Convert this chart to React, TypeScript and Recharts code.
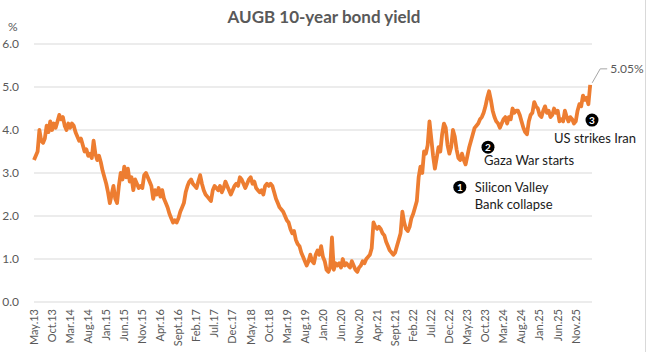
import { CartesianGrid, Line, LineChart, ReferenceDot, XAxis, YAxis } from "recharts";

const FONT = "Lato, 'Open Sans', sans-serif";

// x tick labels, one every 5 months starting May 2013
const xLabels = [
  "May.13", "Oct.13", "Mar.14", "Aug.14", "Jan.15", "Jun.15", "Nov.15", "Apr.16",
  "Sept.16", "Feb.17", "Jul.17", "Dec.17", "May.18", "Oct.18", "Mar.19", "Aug.19",
  "Jan.20", "Jun.20", "Nov.20", "Apr.21", "Sept.21", "Feb.22", "Jul.22", "Dec.22",
  "May.23", "Oct.23", "Mar.24", "Aug.24", "Jan.25", "Jun.25", "Nov.25",
];
const yTicks = [0, 1, 2, 3, 4, 5, 6];

// 10-year yield (%), sampled every half month from May 2013
const STEP = 0.5;
const yields = [
  3.3, 3.4, 3.5, 4.0, 3.75, 3.7, 3.8, 4.1, 3.95, 4.2,
  4.0, 4.15, 4.05, 4.2, 4.35, 4.25, 4.3, 4.1, 4.0, 4.15,
  4.05, 4.15, 4.1, 3.95, 3.85, 3.75, 3.8, 3.65, 3.5, 3.55,
  3.4, 3.45, 3.35, 3.75, 3.45, 3.3, 3.4, 3.25, 3.05, 2.9,
  2.75, 2.55, 2.3, 2.5, 2.7, 2.4, 2.3, 2.7, 3.0, 2.85,
  3.15, 2.9, 3.1, 2.8, 2.9, 2.6, 2.85, 2.75, 2.65, 2.7,
  2.65, 2.95, 3.0, 2.9, 2.8, 2.7, 2.4, 2.6, 2.5, 2.65,
  2.45, 2.6, 2.4, 2.3, 2.2, 2.05, 1.95, 1.85, 1.9, 1.85,
  1.95, 2.1, 2.2, 2.3, 2.55, 2.7, 2.8, 2.85, 2.75, 2.7,
  2.65, 2.8, 2.95, 2.75, 2.6, 2.5, 2.45, 2.4, 2.35, 2.6,
  2.7, 2.65, 2.6, 2.7, 2.55, 2.65, 2.8, 2.7, 2.6, 2.5,
  2.6, 2.7, 2.75, 2.7, 2.9, 2.85, 2.75, 2.65, 2.75, 2.85,
  2.9, 2.75, 2.8, 2.65, 2.6, 2.55, 2.6, 2.5, 2.7, 2.75,
  2.7, 2.75, 2.7, 2.55, 2.4, 2.3, 2.2, 2.15, 2.1, 2.0,
  1.9, 1.85, 1.7, 1.6, 1.65, 1.45, 1.35, 1.3, 1.15, 1.05,
  0.95, 0.85, 0.95, 1.1, 0.95, 0.9, 1.1, 1.2, 1.1, 1.3,
  1.05, 0.95, 0.75, 0.7, 0.8, 1.5, 0.75, 0.9, 0.85, 0.9,
  0.8, 1.0, 0.85, 0.9, 0.85, 0.8, 0.95, 0.85, 0.75, 0.7,
  0.8, 0.85, 0.95, 0.9, 1.0, 1.05, 1.1, 1.25, 1.85, 1.75,
  1.7, 1.75, 1.7, 1.6, 1.55, 1.4, 1.3, 1.2, 1.15, 1.1,
  1.15, 1.3, 1.45, 1.6, 2.1, 1.85, 1.7, 1.65, 1.75, 1.95,
  2.05, 2.2, 2.35, 2.9, 3.15, 3.0, 3.5, 3.45, 3.65, 4.2,
  3.8, 3.4, 3.1, 3.35, 3.6, 3.5, 3.9, 4.15, 4.05, 3.65,
  3.45, 3.6, 4.0, 3.85, 3.55, 3.35, 3.3, 3.45, 3.3, 3.2,
  3.4, 3.6, 3.75, 3.9, 4.05, 4.1, 4.15, 4.25, 4.3, 4.4,
  4.55, 4.75, 4.9, 4.7, 4.45, 4.3, 4.2, 4.15, 4.05, 4.15,
  4.25, 4.3, 4.15, 4.3, 4.25, 4.5, 4.4, 4.45, 4.45, 4.35,
  4.2, 4.05, 3.95, 3.9, 4.2, 4.35, 4.4, 4.65, 4.55, 4.5,
  4.35, 4.3, 4.45, 4.55, 4.4, 4.45, 4.3, 4.35, 4.5, 4.4,
  4.45, 4.2, 4.25, 4.2, 4.45, 4.3, 4.2, 4.3, 4.25, 4.15,
  4.2, 4.45, 4.6, 4.55, 4.8, 4.7, 4.75, 4.6, 5.05,
];

const events = [
  { n: "1", m: 117.9, v: 2.67, lines: ["Silicon Valley", "Bank collapse"], dx: 15, dy: 5 },
  { n: "2", m: 125.7, v: 3.6, lines: ["Gaza War starts"], dx: -4, dy: 18 },
  { n: "3", m: 154.5, v: 4.23, lines: ["US strikes Iran"], dx: -38, dy: 23 },
];

const data = yields.map((v, i) => ({ m: i * STEP, v }));
const last = data[data.length - 1];

const XTick = ({ x, y, payload }: any) => (
  <text
    x={x}
    y={y + 5}
    dy="0.35em"
    transform={`rotate(-90 ${x} ${y + 5})`}
    textAnchor="end"
    fill="#595959"
    fontSize={11}
    fontFamily={FONT}
  >
    {xLabels[Math.round(payload.value / 5)]}
  </text>
);

const eventShape = (ev: (typeof events)[number]) => (props: any) => {
  const { cx, cy } = props;
  return (
    <g>
      <circle cx={cx} cy={cy} r={6.5} fill="#000" />
      <text x={cx} y={cy + 3.5} textAnchor="middle" fill="#fff" fontSize={10} fontWeight={700} fontFamily={FONT}>
        {ev.n}
      </text>
      {ev.lines.map((t, i) => (
        <text key={i} x={cx + ev.dx} y={cy + ev.dy + i * 17} fill="#1a1a1a" fontSize={13} fontFamily={FONT}>
          {t}
        </text>
      ))}
    </g>
  );
};

const lastShape = (props: any) => {
  const { cx, cy } = props;
  return (
    <g>
      <polyline
        points={`${cx + 2},${cy - 2} ${cx + 10},${cy - 16} ${cx + 17},${cy - 16}`}
        fill="none"
        stroke="#a6a6a6"
        strokeWidth={1}
      />
      <text x={cx + 20} y={cy - 12} fill="#595959" fontSize={12} fontFamily={FONT}>
        {last.v.toFixed(2)}%
      </text>
    </g>
  );
};

export default function App() {
  return (
    <div style={{ position: "absolute", left: 0, top: 0, width: 648, height: 352, background: "#fff", fontFamily: FONT }}>
      <div style={{ position: "absolute", left: 0, top: 6, width: 648, textAlign: "center", fontSize: 17, fontWeight: 700, color: "#595959" }}>
        AUGB 10-year bond yield
      </div>
      <div style={{ position: "absolute", left: 8, top: 20, fontSize: 12, lineHeight: "14px", color: "#595959" }}>%</div>
      <div style={{ position: "absolute", left: 645, top: 0, width: 1, height: 352, background: "#d9d9d9" }} />
      <LineChart width={648} height={352} data={data} margin={{ top: 44, right: 56, bottom: 0, left: 0 }}>
        <CartesianGrid horizontal vertical={false} stroke="#d9d9d9" />
        <XAxis
          dataKey="m"
          type="number"
          domain={[0, 154.5]}
          ticks={xLabels.map((_, i) => i * 5)}
          tick={<XTick />}
          tickLine={false}
          axisLine={false}
          tickSize={0}
          height={50}
          interval={0}
        />
        <YAxis
          domain={[0, 6]}
          ticks={yTicks}
          tickFormatter={(v) => v.toFixed(1)}
          tick={{ fill: "#595959", fontSize: 12, fontFamily: FONT }}
          tickLine={false}
          axisLine={false}
          tickSize={0}
          tickMargin={15}
          width={34}
        />
        <Line
          type="linear"
          dataKey="v"
          stroke="#ED7D31"
          strokeWidth={3.8}
          strokeLinejoin="round"
          dot={false}
          isAnimationActive={false}
        />
        <ReferenceDot x={last.m} y={last.v} r={0} shape={lastShape} ifOverflow="visible" />
        {events.map((ev) => (
          <ReferenceDot key={ev.n} x={ev.m} y={ev.v} r={0} shape={eventShape(ev)} ifOverflow="visible" />
        ))}
      </LineChart>
    </div>
  );
}
